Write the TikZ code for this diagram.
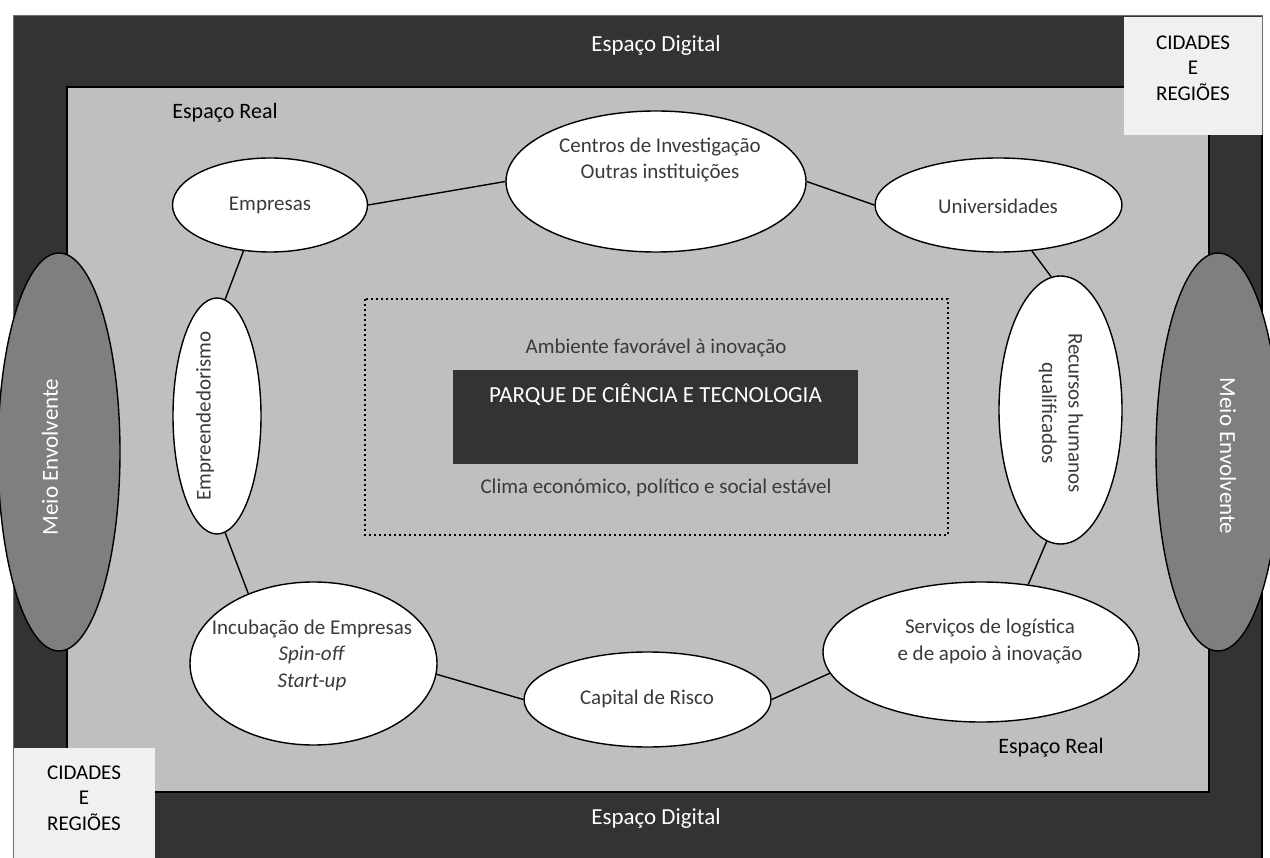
\documentclass[tikz,border=0pt]{standalone}
\usepackage{fontspec}
\setmainfont{Carlito}
\usetikzlibrary{shapes.geometric}
\definecolor{framedark}{HTML}{333333}
\definecolor{realgrey}{HTML}{BFBFBF}
\definecolor{meiogrey}{HTML}{7F7F7F}
\definecolor{boxlight}{HTML}{F0F0F0}
\definecolor{labelgrey}{HTML}{3A3A3A}
\definecolor{edgegrey}{HTML}{6E6E6E}

\begin{document}
\begin{tikzpicture}[x=1pt,y=-1pt,
  bubble/.style={ellipse, draw=black, line width=1.4pt, fill=white, inner sep=0pt},
  meio/.style={ellipse, draw=black, line width=1.4pt, fill=meiogrey, inner sep=0pt},
  lbl/.style={inner sep=0pt, align=center, text=labelgrey, font=\fontsize{21}{26.5}\selectfont},
  cornertxt/.style={inner sep=0pt, align=center, text=black, font=\fontsize{21}{25.5}\selectfont},
  bigtxt/.style={inner sep=0pt, align=center, font=\fontsize{23}{28}\selectfont},
  link/.style={draw=black, line width=1.4pt},
]
\useasboundingbox (0,0) rectangle (1270,858);
\clip (0,0) rectangle (1270,858);
\fill[white] (0,0) rectangle (1270,858);

% digital space frame and real space area
\draw[fill=framedark, draw=edgegrey, line width=1pt] (13.5,16) rectangle (1262,875);
\draw[black, line width=1.6pt] (1262,135) -- (1262,875);
\draw[fill=realgrey, draw=black, line width=1.4pt] (67,87) rectangle (1209,792);

% surrounding environment
\node[meio, minimum width=122pt, minimum height=398pt] (meioL) at (59,452) {};
\node[meio, minimum width=124pt, minimum height=398pt] (meioR) at (1218,452) {};
\node[bigtxt, text=white, rotate=90] (meioLtxt) at (50,457) {Meio Envolvente};
\node[bigtxt, text=white, rotate=-90] (meioRtxt) at (1228,456) {Meio Envolvente};

% cities and regions corners
\fill[boxlight] (1124,17) rectangle (1262,135);
\fill[boxlight] (14,748) rectangle (155,860);
\node[cornertxt] (cidTR) at (1193,68) {CIDADES\\E\\REGIÕES};
\node[cornertxt] (cidBL) at (84,798) {CIDADES\\E\\REGIÕES};

% titles
\node[bigtxt, text=white] (digTop) at (656,45) {Espaço Digital};
\node[bigtxt, text=white] (digBot) at (656,818) {Espaço Digital};
\node[bigtxt, text=black, font=\fontsize{22}{26}\selectfont] (realTop) at (225,113) {Espaço Real};
\node[bigtxt, text=black, font=\fontsize{22}{26}\selectfont] (realBot) at (1051,748) {Espaço Real};

% central park
\draw[black, line width=2pt, dash pattern=on 2pt off 3pt] (365,299) rectangle (948,535);
\fill[framedark] (453,370) rectangle (858,464);
\node[lbl] (ambiente) at (656,348) {Ambiente favorável à inovação};
\node[bigtxt, text=white] (parque) at (655.5,395) {PARQUE DE CIÊNCIA E TECNOLOGIA};
\node[lbl] (clima) at (656,488) {Clima económico, político e social estável};

% actors
\node[bubble, minimum width=195pt, minimum height=94pt] (empresas) at (270,205) {};
\node[bubble, minimum width=300pt, minimum height=141pt] (centros) at (656,181.5) {};
\node[bubble, minimum width=247pt, minimum height=94pt] (univ) at (998.5,205) {};
\node[bubble, minimum width=123pt, minimum height=268pt] (recursos) at (1060.5,410) {};
\node[bubble, minimum width=88pt, minimum height=236pt] (empreend) at (217,416) {};
\node[bubble, minimum width=247pt, minimum height=163pt] (incub) at (313.5,663.5) {};
\node[bubble, minimum width=247pt, minimum height=95pt] (capital) at (647.5,699.5) {};
\node[bubble, minimum width=316pt, minimum height=140pt] (servicos) at (981,652) {};

\node[lbl] (empresasTxt) at (270,205) {Empresas};
\node[lbl] (centrosTxt) at (660,160) {Centros de Investigação\\Outras instituições};
\node[lbl] (univTxt) at (998,206) {Universidades};
\node[lbl, rotate=-90] (recursosTxt) at (1061,413) {Recursos humanos\\qualificados};
\node[lbl, rotate=90] (empreendTxt) at (205,416) {Empreendedorismo};
\node[lbl] (incubTxt) at (312,655) {Incubação de Empresas\\\textit{Spin-off}\\\textit{Start-up}};
\node[lbl] (capitalTxt) at (647,699) {Capital de Risco};
\node[lbl] (servicosTxt) at (990,641.5) {Serviços de logística\\e de apoio à inovação};

% links between actors
\draw[link] (empresas.east) -- (centros.west);
\draw[link] (centros.east) -- (univ.west);
\draw[link] (univ.-54) -- (recursos.94);
\draw[link] (recursos.-96) -- (servicos.55);
\draw[link] (servicos.188) -- (capital.east);
\draw[link] (capital.west) -- (incub.-5);
\draw[link] (incub.133) -- (empreend.-86);
\draw[link] (empreend.86) -- (empresas.-120);
\end{tikzpicture}
\end{document}
